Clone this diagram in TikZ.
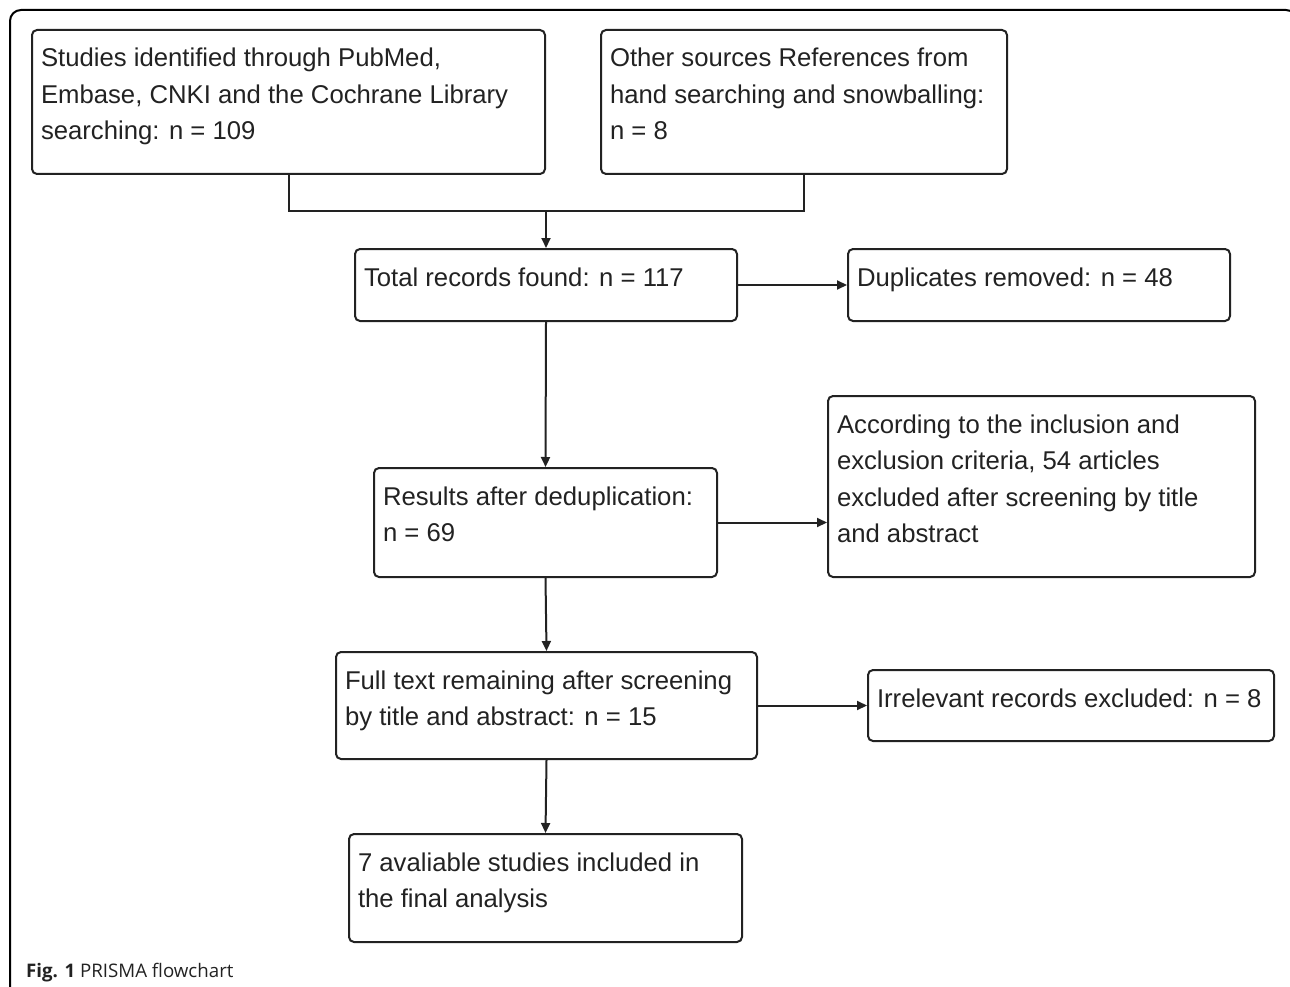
\documentclass[tikz,border=0pt]{standalone}
\usepackage{fontspec}
\setmainfont{Liberation Sans}
\newfontfamily\capfont{Open Sans}
\usetikzlibrary{arrows.meta}
\definecolor{ink}{HTML}{222222}
\tikzset{
  fbox/.style={draw=ink, line width=2pt, rounded corners=5pt, inner sep=0pt, anchor=north west, text=ink},
  conn/.style={draw=ink, line width=2pt},
  arr/.style={conn, -{Triangle[length=10pt,width=9pt]}},
}
\newcommand{\boxtext}{\raggedright\leftskip=9pt\parindent=0pt\fontsize{25.7}{36.5}\selectfont\rule{0pt}{37pt}}
\newcommand{\fbx}[6]{%
  \pgfmathsetmacro\fbW{#4-#2}\pgfmathsetmacro\fbH{#5-#3}%
  \node[fbox] (#1) at (#2,#3) {\parbox[c][\fbH pt][t]{\fbW pt}{\boxtext #6}};}
\begin{document}
\begin{tikzpicture}[x=1pt,y=-1pt]
\useasboundingbox (0,0) rectangle (1290,987);
\begin{scope}
\clip (0,0) rectangle (1290,987);
\draw[line width=2pt, draw=black, rounded corners=11pt] (10,1100) -- (10,10) -- (1297,10) -- (1297,1100);
\end{scope}
\fbx{b1}{31}{29}{544}{173}{Studies identified through PubMed,\\ Embase, CNKI and the Cochrane Library\\ searching: n = 109}
\fbx{b2}{600}{29}{1006}{173}{Other sources References from\\ hand searching and snowballing:\\ n = 8}
\fbx{b3}{354}{248}{736}{320}{Total records found: n = 117}
\fbx{dup}{847}{248}{1229}{320}{Duplicates removed: n = 48}
\fbx{b4}{373}{467}{716}{576}{Results after deduplication:\\ n = 69}
\fbx{b5}{827}{395}{1254}{576}{According to the inclusion and\\ exclusion criteria, 54 articles\\ excluded after screening by title\\ and abstract}
\fbx{b6}{335}{651}{756}{758}{Full text remaining after screening\\ by title and abstract: n = 15}
\fbx{b7}{867}{669}{1273}{740}{Irrelevant records excluded: n = 8}
\fbx{b8}{348}{833}{741}{941}{7 avaliable studies included in\\ the final analysis}
\coordinate (m) at (b3.north |- 0,211);
\draw[conn] (b1.south) |- (m) -| (b2.south);
\draw[arr] (m) -- (b3.north);
\draw[arr] (b3.east) -- (dup.west);
\draw[arr] (b3.south) -- (b4.north);
\draw[arr] (b4.east) -- (b4.east -| b5.west);
\draw[arr] (b4.south) -- (b6.north);
\draw[arr] (b6.east) -- (b7.west);
\draw[arr] (b6.south) -- (b8.north);
\node[anchor=base west, inner sep=0pt, text=ink, font=\capfont\fontsize{18.7}{21}\selectfont] (cap) at (26,977) {\textbf{Fig. 1} PRISMA flowchart};
\end{tikzpicture}
\end{document}
